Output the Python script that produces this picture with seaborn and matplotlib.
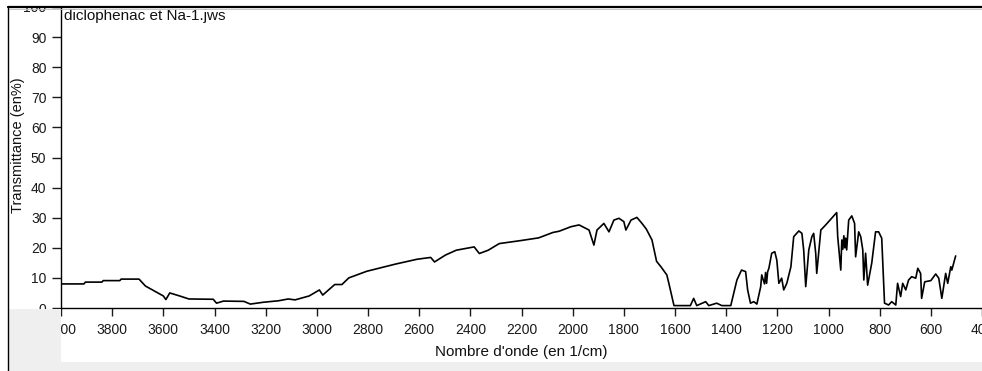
import matplotlib
matplotlib.use("Agg")
import matplotlib.pyplot as plt
import seaborn as sns
import pandas as pd
from matplotlib.patches import Rectangle
from matplotlib.lines import Line2D

# ---- data ----
wavenumber = [4000, 3910, 3905, 3840, 3835, 3770, 3765, 3695, 3670, 3630, 3600, 3590,
              3575, 3540, 3500, 3405, 3392, 3365, 3285, 3260, 3210, 3150, 3112, 3085,
              3030, 2990, 2977, 2930, 2902, 2875, 2805, 2740, 2692, 2608, 2555, 2540,
              2497, 2455, 2385, 2365, 2330, 2287, 2203, 2133, 2077, 2053, 2007, 1975,
              1950, 1936, 1917, 1905, 1878, 1858, 1839, 1819, 1800, 1792, 1772, 1749,
              1729, 1712, 1690, 1672, 1655, 1632, 1624, 1604, 1540, 1527, 1515, 1480,
              1468, 1437, 1417, 1382, 1358, 1340, 1324, 1316, 1305, 1292, 1280, 1265,
              1261, 1250, 1246, 1242, 1238, 1233, 1222, 1210, 1202, 1194, 1183, 1175,
              1163, 1147, 1136, 1116, 1104, 1097, 1089, 1077, 1065, 1058, 1050, 1046,
              1030, 1011, 988, 968, 964, 952, 948, 944, 940, 936, 933, 929, 921, 909,
              898, 894, 882, 874, 866, 862, 855, 847, 831, 816, 804, 792, 781, 765,
              753, 737, 730, 718, 710, 698, 687, 675, 659, 651, 640, 636, 624, 600,
              581, 569, 557, 542, 534, 522, 518, 503]
transmittance = [8.0, 8.0, 8.6, 8.6, 9.1, 9.1, 9.6, 9.6, 7.3, 5.4, 4.0, 2.8,
                 5.0, 4.1, 3.0, 2.9, 1.6, 2.3, 2.2, 1.3, 1.9, 2.4, 3.0, 2.7,
                 4.0, 6.0, 4.3, 7.8, 7.8, 10.0, 12.2, 13.6, 14.6, 16.2, 16.8, 15.3,
                 17.6, 19.2, 20.3, 18.1, 19.2, 21.4, 22.4, 23.3, 25.1, 25.5, 27.0, 27.6,
                 26.5, 25.9, 20.9, 25.9, 28.1, 25.3, 29.2, 29.8, 28.7, 25.9, 29.2, 30.1,
                 28.1, 26.2, 22.6, 15.5, 13.7, 11.0, 8.2, 0.8, 0.8, 3.2, 0.8, 2.1,
                 0.8, 1.6, 0.8, 0.8, 9.3, 12.6, 12.1, 6.0, 1.6, 2.1, 1.3, 7.1,
                 11.0, 8.0, 11.8, 8.2, 12.0, 13.2, 18.2, 18.7, 15.9, 8.2, 9.9, 6.0,
                 8.2, 13.7, 23.7, 25.6, 24.8, 19.3, 7.1, 19.3, 23.7, 24.8, 18.2, 11.5,
                 25.9, 27.6, 29.8, 31.7, 23.7, 12.6, 22.6, 19.5, 24.0, 20.0, 23.2, 19.3, 29.2, 30.6,
                 28.1, 17.0, 25.3, 23.7, 19.3, 9.3, 18.2, 7.6, 14.9, 25.3, 25.3, 23.2, 1.6, 1.0,
                 2.1, 1.0, 8.2, 3.8, 8.2, 6.0, 9.3, 10.4, 9.9, 13.2, 11.5, 3.2, 8.7, 9.1,
                 11.3, 9.9, 3.2, 11.5, 8.2, 13.7, 12.6, 17.3]

x_ticks = [4000, 3800, 3600, 3400, 3200, 3000, 2800, 2600, 2400, 2200, 2000,
           1800, 1600, 1400, 1200, 1000, 800, 600, 400]
y_ticks = [0, 10, 20, 30, 40, 50, 60, 70, 80, 90, 100]
title_text = "diclophenac et Na-1.jws"
x_label = "Nombre d'onde (en 1/cm)"
y_label = "Transmittance (en%)"

sns.set_theme(style="white")
plt.rcParams['font.family'] = ['Liberation Sans', 'DejaVu Sans']

W, H = 982, 371
fig = plt.figure(figsize=(W / 100, H / 100), dpi=100)
fig.patch.set_facecolor("white")

ax = fig.add_axes([61 / W, 1 - 308 / H, (W - 61) / W, (308 - 7) / H])
ax.set_facecolor("white")
df = pd.DataFrame({"wn": wavenumber, "T": transmittance})
sns.lineplot(data=df, x="wn", y="T", ax=ax, color="black", linewidth=1.2,
             sort=False, estimator=None)

ax.set_xlim(4000, 404)
ax.set_ylim(0, 100)
ax.set_xticks(x_ticks)
ax.set_yticks(y_ticks)
ax.set_xlabel("")
ax.set_ylabel("")
for s in ["top", "right"]:
    ax.spines[s].set_visible(False)
for s in ["left", "bottom"]:
    ax.spines[s].set_color("black")
    ax.spines[s].set_linewidth(1.0)
ax.tick_params(axis="y", direction="out", length=6.5, width=1, pad=4,
               labelsize=10, colors="#1a1a1a", left=True)
ax.tick_params(axis="x", direction="out", length=5.8, width=1, pad=5,
               labelsize=10, colors="#1a1a1a", bottom=True)

ax.text(0.003, 0.995, title_text, transform=ax.transAxes, ha="left", va="top",
        fontsize=11, color="#111111")

fig.text(521 / W, 1 - 352 / H, x_label, ha="center", va="center",
         fontsize=11, color="#111111")
fig.text(18 / W, 1 - 145 / H, y_label, ha="center", va="center",
         rotation=90, fontsize=10.5, color="#111111")

# window chrome: gray panels, white top, border lines
gray = "#efefef"
fig.add_artist(Rectangle((8.5 / W, 0), (60.5 - 8.5) / W, (371 - 308.5) / H,
                         transform=fig.transFigure, facecolor=gray,
                         edgecolor="none", zorder=5))
fig.add_artist(Rectangle((8.5 / W, 0), (W - 8.5) / W, (371 - 362) / H,
                         transform=fig.transFigure, facecolor=gray,
                         edgecolor="none", zorder=5))
fig.add_artist(Rectangle((0, 1 - 6 / H), 1, 6 / H, transform=fig.transFigure,
                         facecolor="white", edgecolor="none", zorder=5))
fig.add_artist(Line2D([8 / W, 1], [1 - 7 / H, 1 - 7 / H], transform=fig.transFigure,
                      color="black", linewidth=1.6, zorder=6))
fig.add_artist(Line2D([8 / W, 1], [1 - 8.8 / H, 1 - 8.8 / H], transform=fig.transFigure,
                      color="#bdbdbd", linewidth=0.6, zorder=6))
fig.add_artist(Line2D([8 / W, 8 / W], [0, 1 - 7 / H], transform=fig.transFigure,
                      color="black", linewidth=1.0, zorder=6))

fig.savefig("out.png", dpi=100)
